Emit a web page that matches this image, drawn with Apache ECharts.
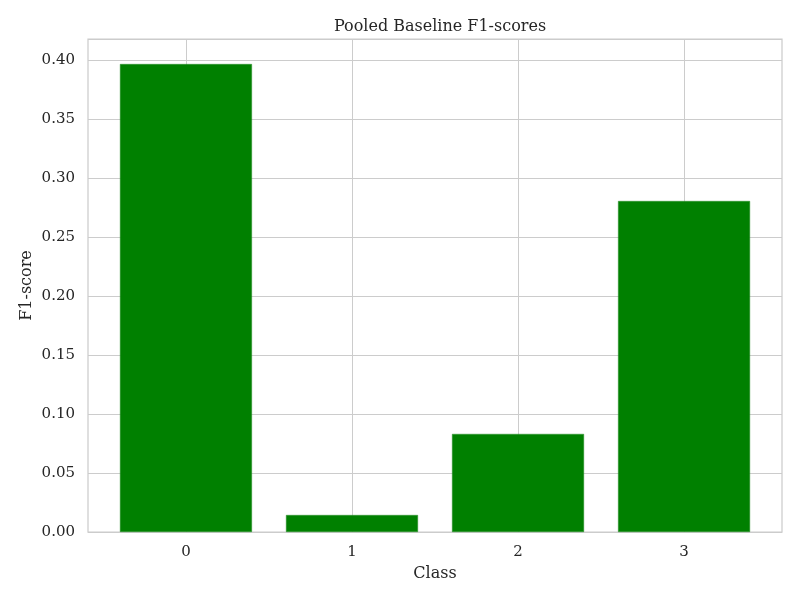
<!DOCTYPE html>
<html>
<head>
<meta charset="utf-8">
<title>Pooled Baseline F1-scores</title>
<script src="https://cdn.jsdelivr.net/npm/echarts@6/dist/echarts.min.js"></script>
<style>
    html,body{margin:0;padding:0;background:#fff;}
    #eChart{width:800px;height:600px;}
</style>
</head>
<body>
<div id="eChart"></div>
<script>
var classes=[0,1,2,3];
var f1Scores=[0.3966,0.0144,0.0831,0.2805];

var textColor='#262626';
var gridColor='#cccccc';
var font='DejaVu Serif';

var myChart=echarts.init(document.getElementById('eChart'));

// bars sit on a value axis so the x limits can match the original margins
var barData=[];
for(var i=0;i<classes.length;i++){
    barData.push([classes[i],f1Scores[i]]);
}

var option={
    backgroundColor:'#ffffff',
    animation:false,
    title:{
        text:'Pooled Baseline F1-scores',
        left:435,
        textAlign:'center',
        top:14,
        textStyle:{fontFamily:font,fontSize:16,fontWeight:'normal',color:textColor}
    },
    grid:{
        left:88,
        top:39,
        width:694,
        height:493,
        show:true,
        borderColor:gridColor,
        borderWidth:1.25,
        containLabel:false
    },
    xAxis:{
        type:'value',
        min:-0.59,
        max:3.59,
        name:'Class',
        nameLocation:'middle',
        nameGap:34,
        nameMoveOverlap:false,
        nameTextStyle:{fontFamily:font,fontSize:16,color:textColor},
        axisLine:{show:false},
        axisTick:{show:false,customValues:classes},
        axisLabel:{
            customValues:classes,
            margin:13,
            fontFamily:font,
            fontSize:15,
            color:textColor
        },
        splitLine:{show:true,lineStyle:{color:gridColor,width:1}}
    },
    yAxis:{
        type:'value',
        min:0,
        max:0.4178,
        interval:0.05,
        name:'F1-score',
        nameLocation:'middle',
        nameGap:53,
        nameMoveOverlap:false,
        nameTextStyle:{fontFamily:font,fontSize:16,color:textColor},
        axisLine:{show:false},
        axisTick:{show:false},
        axisLabel:{
            showMaxLabel:false,
            margin:13,
            fontFamily:font,
            fontSize:15,
            color:textColor,
            formatter:function(v){return v.toFixed(2);}
        },
        splitLine:{show:true,lineStyle:{color:gridColor,width:1}}
    },
    series:[{
        type:'bar',
        data:barData,
        barWidth:132,
        itemStyle:{color:'#008000',borderColor:'#2a8f2a',borderWidth:0.5},
        z:3
    }]
};

myChart.setOption(option);
</script>
</body>
</html>
